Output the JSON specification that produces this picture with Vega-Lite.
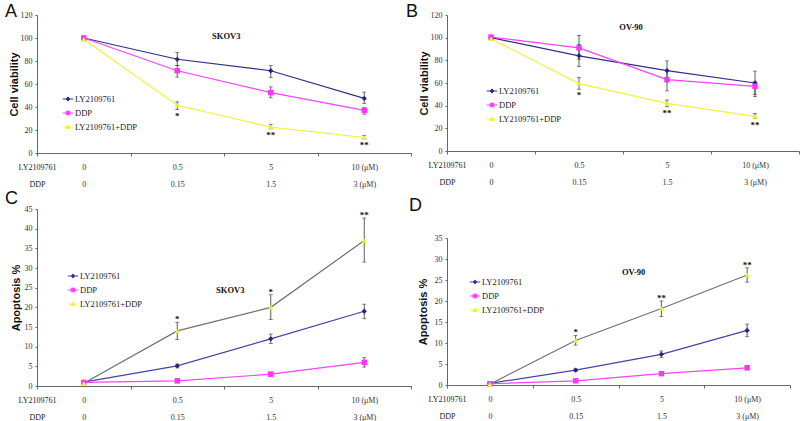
{
  "$schema": "https://vega.github.io/schema/vega-lite/v6.json",
  "background": "white",
  "padding": {"left": 5, "top": 3, "right": 0, "bottom": 0},
  "datasets": {
    "d": [
      {"p":"A","d":"0","s":"LY2109761","m":100,"lo":99.3,"hi":100.7,"st":""},
      {"p":"A","d":"0.5","s":"LY2109761","m":81.5,"lo":76,"hi":87.5,"st":""},
      {"p":"A","d":"5","s":"LY2109761","m":71.5,"lo":65.5,"hi":76,"st":""},
      {"p":"A","d":"10","s":"LY2109761","m":47.5,"lo":43,"hi":53,"st":""},
      {"p":"A","d":"0","s":"DDP","m":100,"lo":99.5,"hi":100.5,"st":""},
      {"p":"A","d":"0.5","s":"DDP","m":71.5,"lo":66,"hi":76,"st":""},
      {"p":"A","d":"5","s":"DDP","m":52.5,"lo":48,"hi":57.5,"st":""},
      {"p":"A","d":"10","s":"DDP","m":37,"lo":33.7,"hi":39.5,"st":""},
      {"p":"A","d":"0","s":"LY2109761+DDP","m":99,"lo":98.5,"hi":99.5,"st":""},
      {"p":"A","d":"0.5","s":"LY2109761+DDP","m":41.5,"lo":37.8,"hi":44.5,"st":"*"},
      {"p":"A","d":"5","s":"LY2109761+DDP","m":22.5,"lo":21,"hi":25,"st":"**"},
      {"p":"A","d":"10","s":"LY2109761+DDP","m":13.5,"lo":12.4,"hi":15.3,"st":"**"},
      {"p":"B","d":"0","s":"LY2109761","m":100,"lo":99.5,"hi":100.5,"st":""},
      {"p":"B","d":"0.5","s":"LY2109761","m":84,"lo":74.5,"hi":94,"st":""},
      {"p":"B","d":"5","s":"LY2109761","m":71,"lo":61,"hi":79.5,"st":""},
      {"p":"B","d":"10","s":"LY2109761","m":60,"lo":50,"hi":70.5,"st":""},
      {"p":"B","d":"0","s":"DDP","m":100.5,"lo":100,"hi":101,"st":""},
      {"p":"B","d":"0.5","s":"DDP","m":91,"lo":81,"hi":102,"st":""},
      {"p":"B","d":"5","s":"DDP","m":63,"lo":53,"hi":70,"st":""},
      {"p":"B","d":"10","s":"DDP","m":57,"lo":48,"hi":61,"st":""},
      {"p":"B","d":"0","s":"LY2109761+DDP","m":99,"lo":98.5,"hi":99.5,"st":""},
      {"p":"B","d":"0.5","s":"LY2109761+DDP","m":59.5,"lo":54.5,"hi":65,"st":"*"},
      {"p":"B","d":"5","s":"LY2109761+DDP","m":42,"lo":39,"hi":45,"st":"**"},
      {"p":"B","d":"10","s":"LY2109761+DDP","m":30.5,"lo":28.5,"hi":33,"st":"**"},
      {"p":"C","d":"0","s":"LY2109761","m":1.0,"lo":0.8,"hi":1.2,"st":""},
      {"p":"C","d":"0.5","s":"LY2109761","m":5.1,"lo":4.6,"hi":5.6,"st":""},
      {"p":"C","d":"5","s":"LY2109761","m":12,"lo":10.8,"hi":13.2,"st":""},
      {"p":"C","d":"10","s":"LY2109761","m":19,"lo":17.1,"hi":20.8,"st":""},
      {"p":"C","d":"0","s":"DDP","m":0.9,"lo":0.7,"hi":1.1,"st":""},
      {"p":"C","d":"0.5","s":"DDP","m":1.3,"lo":0.9,"hi":1.8,"st":""},
      {"p":"C","d":"5","s":"DDP","m":3.0,"lo":2.5,"hi":3.5,"st":""},
      {"p":"C","d":"10","s":"DDP","m":6.0,"lo":4.8,"hi":7.2,"st":""},
      {"p":"C","d":"0","s":"LY2109761+DDP","m":0.7,"lo":0.5,"hi":0.9,"st":""},
      {"p":"C","d":"0.5","s":"LY2109761+DDP","m":14,"lo":11.8,"hi":16.2,"st":"*"},
      {"p":"C","d":"5","s":"LY2109761+DDP","m":20,"lo":16.9,"hi":23.2,"st":"*"},
      {"p":"C","d":"10","s":"LY2109761+DDP","m":37,"lo":31.5,"hi":42.7,"st":"**"},
      {"p":"D","d":"0","s":"LY2109761","m":0.4,"lo":0.3,"hi":0.5,"st":""},
      {"p":"D","d":"0.5","s":"LY2109761","m":3.55,"lo":3.25,"hi":3.85,"st":""},
      {"p":"D","d":"5","s":"LY2109761","m":7.3,"lo":6.5,"hi":8.1,"st":""},
      {"p":"D","d":"10","s":"LY2109761","m":13,"lo":11.5,"hi":14.5,"st":""},
      {"p":"D","d":"0","s":"DDP","m":0.3,"lo":0.2,"hi":0.4,"st":""},
      {"p":"D","d":"0.5","s":"DDP","m":1.0,"lo":0.8,"hi":1.2,"st":""},
      {"p":"D","d":"5","s":"DDP","m":2.7,"lo":2.3,"hi":3.0,"st":""},
      {"p":"D","d":"10","s":"DDP","m":4.1,"lo":3.6,"hi":4.6,"st":""},
      {"p":"D","d":"0","s":"LY2109761+DDP","m":0.2,"lo":0.1,"hi":0.3,"st":""},
      {"p":"D","d":"0.5","s":"LY2109761+DDP","m":10.6,"lo":9.5,"hi":11.8,"st":"*"},
      {"p":"D","d":"5","s":"LY2109761+DDP","m":18.2,"lo":16.3,"hi":20,"st":"**"},
      {"p":"D","d":"10","s":"LY2109761+DDP","m":26.2,"lo":24.5,"hi":27.9,"st":"**"}
    ],
    "t": [
      {"p":"A","d":"0.5","y":101.7,"t":"SKOV3"},
      {"p":"B","d":"0.5","y":109.4,"t":"OV-90"},
      {"p":"C","d":"0.5","y":24.4,"t":"SKOV3"},
      {"p":"D","d":"0.5","y":26.9,"t":"OV-90"}
    ]
  },
  "data": {"name": "d"},
  "spacing": -6,
  "resolve": {"scale": {"color": "independent"}, "legend": {"color": "independent"}},
  "hconcat": [
    {
      "vconcat": [
        {
          "width": 374, "height": 138,
          "title": {"text": "A", "anchor": "start", "frame": "group", "dx": -32, "offset": -10},
          "transform": [{"filter": "datum.p == 'A'"}],
          "encoding": {"x": {"field": "d", "type": "ordinal", "sort": ["0","0.5","5","10"], "scale": {"padding": 0},
            "axis": {"title": ["LY2109761","DDP"], "titleX": 0, "titleY": 10, "titleAlign": "center", "titleBaseline": "top", "titleLineHeight": 17, "labelAngle": 0, "labelExpr": "datum.value=='0'?['0','0']:datum.value=='0.5'?['0.5','0.15']:datum.value=='5'?['5','1.5']:datum.value=='10'?['10 (μM)','3 (μM)']:''", "labelLineHeight": 17, "labelPadding": 7, "labelBaseline": "top", "tickBand": "extent", "labelOverlap": false, "labelFlush": false}},
            "y": {"field": "m", "type": "quantitative", "title": "Cell viability", "scale": {"domain": [0,120], "nice": false}, "axis": {"values": [0,20,40,60,80,100,120], "labelOverlap": false, "labelSeparation": -30, "titlePadding": 1}}},
          "layer": [
            {"mark": {"type": "line", "strokeWidth": 1.2},
             "encoding": {
               "color": {"field": "s", "type": "nominal", "scale": {"domain": ["LY2109761","DDP","LY2109761+DDP"], "range": ["#2e2e88","#ff40ff","#f2f23c"]},
                 "legend": {"title": null, "orient": "none", "legendX": 25, "legendY": 78,
                   "encode": {"symbols": {"update": {
                     "shape": {"signal": "datum.value=='DDP'?'M-1,0H1M-0.35,-0.35H0.35V0.35H-0.35Z':datum.value=='LY2109761'?'M-1,0H1M0,-0.4L0.35,0L0,0.4L-0.35,0Z':'M-1,0H1M0,-0.4L0.4,0.3H-0.4Z'"},
                     "fill": {"signal": "datum.value=='DDP'?'#ff33ff':datum.value=='LY2109761'?'#26267f':'#eeee30'"},
                     "stroke": {"signal": "datum.value=='DDP'?'#ff33ff':datum.value=='LY2109761'?'#26267f':'#eeee30'"},
                     "strokeWidth": {"value": 1}, "opacity": {"value": 1}, "fillOpacity": {"value": 1}, "strokeOpacity": {"value": 1}}}}}}}},
            {"mark": {"type": "errorbar", "color": "#333", "thickness": 0.8, "ticks": {"size": 4, "thickness": 0.8, "color": "#333"}},
             "encoding": {"y": {"field": "lo", "type": "quantitative", "title": "Cell viability", "axis": {"values": [0,20,40,60,80,100,120], "labelOverlap": false, "labelSeparation": -30, "titlePadding": 1}}, "y2": {"field": "hi"}}},
            {"transform": [{"filter": "datum.s == 'LY2109761'"}], "mark": {"type": "point", "filled": true, "size": 28, "opacity": 1, "shape": "diamond", "color": "#26267f"}},
            {"transform": [{"filter": "datum.s == 'DDP'"}], "mark": {"type": "point", "filled": true, "size": 30, "opacity": 1, "shape": "square", "color": "#ff33ff"}},
            {"transform": [{"filter": "datum.s == 'LY2109761+DDP'"}], "mark": {"type": "point", "filled": true, "size": 28, "opacity": 1, "shape": "triangle-up", "color": "#eeee30"}},
            {"transform": [{"filter": "datum.st != ''"}],
             "mark": {"type": "text", "baseline": "top", "dy": 2, "fontSize": 9, "fontWeight": "bold", "color": "#111"},
             "encoding": {"y": {"field": "lo", "type": "quantitative", "title": "Cell viability", "axis": {"values": [0,20,40,60,80,100,120], "labelOverlap": false, "labelSeparation": -30, "titlePadding": 1}}, "text": {"field": "st"}}},
            {"data": {"name": "t"}, "transform": [{"filter": "datum.p == 'A'"}],
             "mark": {"type": "text", "dx": 49, "fontSize": 8.5, "fontWeight": "bold", "color": "#111"},
             "encoding": {"y": {"field": "y", "type": "quantitative", "title": "Cell viability", "axis": {"values": [0,20,40,60,80,100,120], "labelOverlap": false, "labelSeparation": -30, "titlePadding": 1}}, "text": {"field": "t"}}}
          ]
        },
        {
          "width": 374, "height": 177,
          "title": {"text": "C", "anchor": "start", "frame": "group", "dx": -32, "offset": -3},
          "transform": [{"filter": "datum.p == 'C'"}],
          "encoding": {"x": {"field": "d", "type": "ordinal", "sort": ["0","0.5","5","10"], "scale": {"padding": 0},
            "axis": {"title": ["LY2109761","DDP"], "titleX": 0, "titleY": 10, "titleAlign": "center", "titleBaseline": "top", "titleLineHeight": 17, "labelAngle": 0, "labelExpr": "datum.value=='0'?['0','0']:datum.value=='0.5'?['0.5','0.15']:datum.value=='5'?['5','1.5']:datum.value=='10'?['10 (μM)','3 (μM)']:''", "labelLineHeight": 17, "labelPadding": 7, "labelBaseline": "top", "tickBand": "extent", "labelOverlap": false, "labelFlush": false}},
            "y": {"field": "m", "type": "quantitative", "title": "Apoptosis %", "scale": {"domain": [0,45], "nice": false}, "axis": {"values": [0,5,10,15,20,25,30,35,40,45], "labelOverlap": false, "labelSeparation": -30, "titlePadding": 3}}},
          "layer": [
            {"transform": [{"filter": "datum.s != 'LY2109761+DDP'"}],
             "mark": {"type": "line", "strokeWidth": 1.2},
             "encoding": {
               "color": {"field": "s", "type": "nominal", "scale": {"domain": ["LY2109761","DDP","LY2109761+DDP"], "range": ["#4444a4","#ff40ff","#f2f23c"]},
                 "legend": {"title": null, "orient": "none", "legendX": 30, "legendY": 61,
                   "encode": {"symbols": {"update": {
                     "shape": {"signal": "datum.value=='DDP'?'M-1,0H1M-0.35,-0.35H0.35V0.35H-0.35Z':datum.value=='LY2109761'?'M-1,0H1M0,-0.4L0.35,0L0,0.4L-0.35,0Z':'M-1,0H1M0,-0.4L0.4,0.3H-0.4Z'"},
                     "fill": {"signal": "datum.value=='DDP'?'#ff33ff':datum.value=='LY2109761'?'#26267f':'#eeee30'"},
                     "stroke": {"signal": "datum.value=='DDP'?'#ff33ff':datum.value=='LY2109761'?'#26267f':'#eeee30'"},
                     "strokeWidth": {"value": 1}, "opacity": {"value": 1}, "fillOpacity": {"value": 1}, "strokeOpacity": {"value": 1}}}}}}}},
            {"transform": [{"filter": "datum.s == 'LY2109761+DDP'"}],
             "mark": {"type": "line", "strokeWidth": 1.2, "color": "#707070"}},
            {"mark": {"type": "errorbar", "color": "#333", "thickness": 0.8, "ticks": {"size": 4, "thickness": 0.8, "color": "#333"}},
             "encoding": {"y": {"field": "lo", "type": "quantitative", "title": "Apoptosis %", "axis": {"values": [0,5,10,15,20,25,30,35,40,45], "labelOverlap": false, "labelSeparation": -30, "titlePadding": 3}}, "y2": {"field": "hi"}}},
            {"transform": [{"filter": "datum.s == 'LY2109761'"}], "mark": {"type": "point", "filled": true, "size": 28, "opacity": 1, "shape": "diamond", "color": "#26267f"}},
            {"transform": [{"filter": "datum.s == 'DDP'"}], "mark": {"type": "point", "filled": true, "size": 30, "opacity": 1, "shape": "square", "color": "#ff33ff"}},
            {"transform": [{"filter": "datum.s == 'LY2109761+DDP'"}], "mark": {"type": "point", "filled": true, "size": 28, "opacity": 1, "shape": "triangle-up", "color": "#eeee30"}},
            {"transform": [{"filter": "datum.st != ''"}],
             "mark": {"type": "text", "baseline": "bottom", "dy": 2, "fontSize": 9, "fontWeight": "bold", "color": "#111"},
             "encoding": {"y": {"field": "hi", "type": "quantitative", "title": "Apoptosis %", "axis": {"values": [0,5,10,15,20,25,30,35,40,45], "labelOverlap": false, "labelSeparation": -30, "titlePadding": 3}}, "text": {"field": "st"}}},
            {"data": {"name": "t"}, "transform": [{"filter": "datum.p == 'C'"}],
             "mark": {"type": "text", "dx": 53, "fontSize": 8.5, "fontWeight": "bold", "color": "#111"},
             "encoding": {"y": {"field": "y", "type": "quantitative", "title": "Apoptosis %", "axis": {"values": [0,5,10,15,20,25,30,35,40,45], "labelOverlap": false, "labelSeparation": -30, "titlePadding": 3}}, "text": {"field": "t"}}}
          ]
        }
      ],
      "spacing": 56,
      "bounds": "flush",
      "resolve": {"scale": {"color": "independent"}, "legend": {"color": "independent"}}
    },
    {
      "vconcat": [
        {
          "width": 352, "height": 136,
          "title": {"text": "B", "anchor": "start", "frame": "group", "dx": -41, "offset": -10},
          "transform": [{"filter": "datum.p == 'B'"}],
          "encoding": {"x": {"field": "d", "type": "ordinal", "sort": ["0","0.5","5","10"], "scale": {"padding": 0},
            "axis": {"title": ["LY2109761","DDP"], "titleX": 0, "titleY": 10, "titleAlign": "center", "titleBaseline": "top", "titleLineHeight": 17, "labelAngle": 0, "labelExpr": "datum.value=='0'?['0','0']:datum.value=='0.5'?['0.5','0.15']:datum.value=='5'?['5','1.5']:datum.value=='10'?['10 (μM)','3 (μM)']:''", "labelLineHeight": 17, "labelPadding": 7, "labelBaseline": "top", "tickBand": "extent", "labelOverlap": false, "labelFlush": false}},
            "y": {"field": "m", "type": "quantitative", "title": "Cell viability", "scale": {"domain": [0,120], "nice": false}, "axis": {"values": [0,20,40,60,80,100,120], "labelOverlap": false, "labelSeparation": -30, "titlePadding": 1}}},
          "layer": [
            {"mark": {"type": "line", "strokeWidth": 1.2},
             "encoding": {
               "color": {"field": "s", "type": "nominal", "scale": {"domain": ["LY2109761","DDP","LY2109761+DDP"], "range": ["#2e2e88","#ff40ff","#f2f23c"]},
                 "legend": {"title": null, "orient": "none", "legendX": 39, "legendY": 70,
                   "encode": {"symbols": {"update": {
                     "shape": {"signal": "datum.value=='DDP'?'M-1,0H1M-0.35,-0.35H0.35V0.35H-0.35Z':datum.value=='LY2109761'?'M-1,0H1M0,-0.4L0.35,0L0,0.4L-0.35,0Z':'M-1,0H1M0,-0.4L0.4,0.3H-0.4Z'"},
                     "fill": {"signal": "datum.value=='DDP'?'#ff33ff':datum.value=='LY2109761'?'#26267f':'#eeee30'"},
                     "stroke": {"signal": "datum.value=='DDP'?'#ff33ff':datum.value=='LY2109761'?'#26267f':'#eeee30'"},
                     "strokeWidth": {"value": 1}, "opacity": {"value": 1}, "fillOpacity": {"value": 1}, "strokeOpacity": {"value": 1}}}}}}}},
            {"mark": {"type": "errorbar", "color": "#333", "thickness": 0.8, "ticks": {"size": 4, "thickness": 0.8, "color": "#333"}},
             "encoding": {"y": {"field": "lo", "type": "quantitative", "title": "Cell viability", "axis": {"values": [0,20,40,60,80,100,120], "labelOverlap": false, "labelSeparation": -30, "titlePadding": 1}}, "y2": {"field": "hi"}}},
            {"transform": [{"filter": "datum.s == 'LY2109761'"}], "mark": {"type": "point", "filled": true, "size": 28, "opacity": 1, "shape": "diamond", "color": "#26267f"}},
            {"transform": [{"filter": "datum.s == 'DDP'"}], "mark": {"type": "point", "filled": true, "size": 30, "opacity": 1, "shape": "square", "color": "#ff33ff"}},
            {"transform": [{"filter": "datum.s == 'LY2109761+DDP'"}], "mark": {"type": "point", "filled": true, "size": 28, "opacity": 1, "shape": "triangle-up", "color": "#eeee30"}},
            {"transform": [{"filter": "datum.st != ''"}],
             "mark": {"type": "text", "baseline": "top", "dy": 2, "fontSize": 9, "fontWeight": "bold", "color": "#111"},
             "encoding": {"y": {"field": "lo", "type": "quantitative", "title": "Cell viability", "axis": {"values": [0,20,40,60,80,100,120], "labelOverlap": false, "labelSeparation": -30, "titlePadding": 1}}, "text": {"field": "st"}}},
            {"data": {"name": "t"}, "transform": [{"filter": "datum.p == 'B'"}],
             "mark": {"type": "text", "dx": 52, "fontSize": 8.5, "fontWeight": "bold", "color": "#111"},
             "encoding": {"y": {"field": "y", "type": "quantitative", "title": "Cell viability", "axis": {"values": [0,20,40,60,80,100,120], "labelOverlap": false, "labelSeparation": -30, "titlePadding": 1}}, "text": {"field": "t"}}}
          ]
        },
        {
          "width": 343, "height": 147,
          "title": {"text": "D", "anchor": "start", "frame": "group", "dx": -38, "offset": 19},
          "transform": [{"filter": "datum.p == 'D'"}],
          "encoding": {"x": {"field": "d", "type": "ordinal", "sort": ["0","0.5","5","10"], "scale": {"padding": 0},
            "axis": {"title": ["LY2109761","DDP"], "titleX": 0, "titleY": 10, "titleAlign": "center", "titleBaseline": "top", "titleLineHeight": 17, "labelAngle": 0, "labelExpr": "datum.value=='0'?['0','0']:datum.value=='0.5'?['0.5','0.15']:datum.value=='5'?['5','1.5']:datum.value=='10'?['10 (μM)','3 (μM)']:''", "labelLineHeight": 17, "labelPadding": 7, "labelBaseline": "top", "tickBand": "extent", "labelOverlap": false, "labelFlush": false}},
            "y": {"field": "m", "type": "quantitative", "title": "Apoptosis %", "scale": {"domain": [0,35], "nice": false}, "axis": {"values": [0,5,10,15,20,25,30,35], "labelOverlap": false, "labelSeparation": -30, "titlePadding": 6}}},
          "layer": [
            {"transform": [{"filter": "datum.s != 'LY2109761+DDP'"}],
             "mark": {"type": "line", "strokeWidth": 1.2},
             "encoding": {
               "color": {"field": "s", "type": "nominal", "scale": {"domain": ["LY2109761","DDP","LY2109761+DDP"], "range": ["#4444a4","#ff40ff","#f2f23c"]},
                 "legend": {"title": null, "orient": "none", "legendX": 22, "legendY": 38,
                   "encode": {"symbols": {"update": {
                     "shape": {"signal": "datum.value=='DDP'?'M-1,0H1M-0.35,-0.35H0.35V0.35H-0.35Z':datum.value=='LY2109761'?'M-1,0H1M0,-0.4L0.35,0L0,0.4L-0.35,0Z':'M-1,0H1M0,-0.4L0.4,0.3H-0.4Z'"},
                     "fill": {"signal": "datum.value=='DDP'?'#ff33ff':datum.value=='LY2109761'?'#26267f':'#eeee30'"},
                     "stroke": {"signal": "datum.value=='DDP'?'#ff33ff':datum.value=='LY2109761'?'#26267f':'#eeee30'"},
                     "strokeWidth": {"value": 1}, "opacity": {"value": 1}, "fillOpacity": {"value": 1}, "strokeOpacity": {"value": 1}}}}}}}},
            {"transform": [{"filter": "datum.s == 'LY2109761+DDP'"}],
             "mark": {"type": "line", "strokeWidth": 1.2, "color": "#707070"}},
            {"mark": {"type": "errorbar", "color": "#333", "thickness": 0.8, "ticks": {"size": 4, "thickness": 0.8, "color": "#333"}},
             "encoding": {"y": {"field": "lo", "type": "quantitative", "title": "Apoptosis %", "axis": {"values": [0,5,10,15,20,25,30,35], "labelOverlap": false, "labelSeparation": -30, "titlePadding": 6}}, "y2": {"field": "hi"}}},
            {"transform": [{"filter": "datum.s == 'LY2109761'"}], "mark": {"type": "point", "filled": true, "size": 28, "opacity": 1, "shape": "diamond", "color": "#26267f"}},
            {"transform": [{"filter": "datum.s == 'DDP'"}], "mark": {"type": "point", "filled": true, "size": 30, "opacity": 1, "shape": "square", "color": "#ff33ff"}},
            {"transform": [{"filter": "datum.s == 'LY2109761+DDP'"}], "mark": {"type": "point", "filled": true, "size": 28, "opacity": 1, "shape": "triangle-up", "color": "#eeee30"}},
            {"transform": [{"filter": "datum.st != ''"}],
             "mark": {"type": "text", "baseline": "bottom", "dy": 2, "fontSize": 9, "fontWeight": "bold", "color": "#111"},
             "encoding": {"y": {"field": "hi", "type": "quantitative", "title": "Apoptosis %", "axis": {"values": [0,5,10,15,20,25,30,35], "labelOverlap": false, "labelSeparation": -30, "titlePadding": 6}}, "text": {"field": "st"}}},
            {"data": {"name": "t"}, "transform": [{"filter": "datum.p == 'D'"}],
             "mark": {"type": "text", "dx": 58, "fontSize": 8.5, "fontWeight": "bold", "color": "#111"},
             "encoding": {"y": {"field": "y", "type": "quantitative", "title": "Apoptosis %", "axis": {"values": [0,5,10,15,20,25,30,35], "labelOverlap": false, "labelSeparation": -30, "titlePadding": 6}}, "text": {"field": "t"}}}
          ]
        }
      ],
      "spacing": 87,
      "bounds": "flush",
      "resolve": {"scale": {"color": "independent"}, "legend": {"color": "independent"}}
    }
  ],
  "config": {
    "view": {"stroke": null},
    "font": "Liberation Serif",
    "title": {"font": "Liberation Sans", "fontSize": 18, "fontWeight": "normal", "color": "#111"},
    "axis": {"grid": false, "labelFont": "Liberation Serif", "labelFontSize": 8, "labelColor": "#333", "domainColor": "#666", "tickColor": "#666", "tickSize": 3,
      "titleFont": "Liberation Serif", "titleFontSize": 8, "titleFontWeight": "normal", "titleColor": "#222"},
    "axisY": {"titleFont": "Liberation Sans", "titleFontSize": 11, "titleFontWeight": "bold", "titleColor": "#111", "labelPadding": 3, "tickSize": 2, "labelOverlap": false},
    "legend": {"labelFont": "Liberation Serif", "labelFontSize": 8.5, "labelColor": "#222", "symbolSize": 110, "rowPadding": 3, "labelOffset": 1, "padding": 0}
  }
}
